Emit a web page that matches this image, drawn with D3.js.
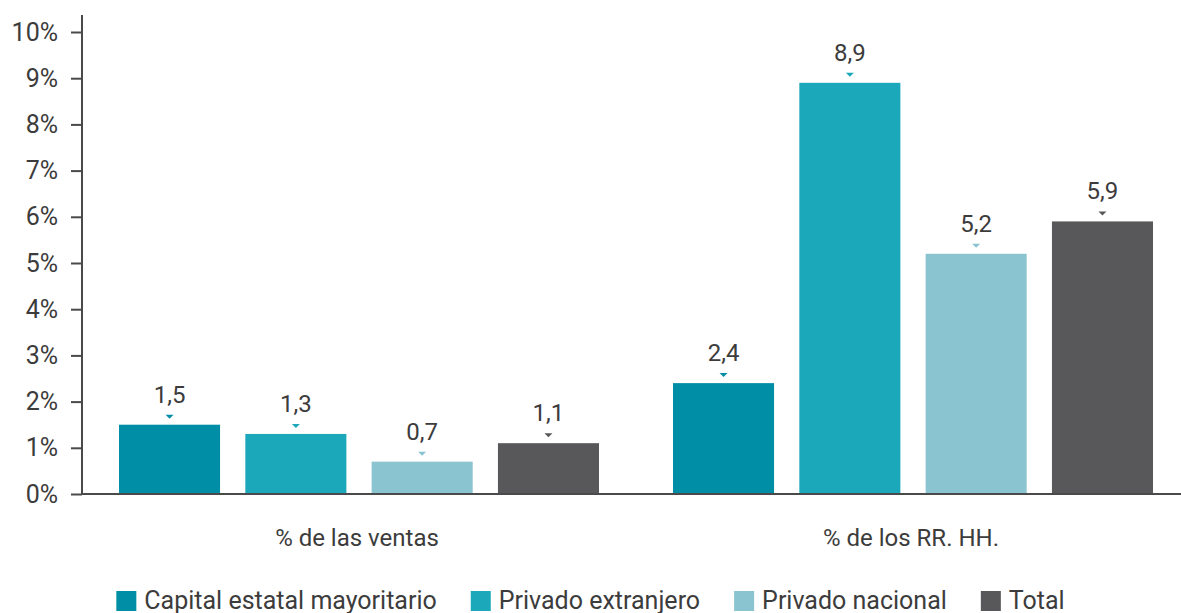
<!DOCTYPE html>
<html>
<head>
<meta charset="utf-8">
<script src="https://cdn.jsdelivr.net/npm/d3@7"></script>
<style>
    html, body { margin: 0; padding: 0; background: #fff; }
    svg text { font-family: Roboto, "Noto Sans", sans-serif; fill: #3c3c3c; }
</style>
</head>
<body>
<div id="chart"></div>
<script>
const groups = ["% de las ventas", "% de los RR. HH."];
const series = ["Capital estatal mayoritario", "Privado extranjero", "Privado nacional", "Total"];
const colors = ["#008ea6", "#1ca8bb", "#8ac4d0", "#58585a"];
const ventas = [1.5, 1.3, 0.7, 1.1];
const rrhh = [2.4, 8.9, 5.2, 5.9];
const yTicks = [0, 1, 2, 3, 4, 5, 6, 7, 8, 9, 10];

const width = 1181, height = 613;
const margin = { top: 15, left: 82, bottom: 119, right: 0 };

const svg = d3.select("#chart").append("svg")
    .attr("width", width)
    .attr("height", height);

const y = d3.scaleLinear()
    .domain([0, 10])
    .range([height - margin.bottom, 32]);

// groups are slightly wider than the plot, the last band runs past the edge
const x0 = d3.scaleBand()
    .domain(groups)
    .range([margin.left, 1190]);

const x1 = d3.scaleBand()
    .domain(series)
    .range([0, x0.bandwidth()])
    .paddingInner(0.2)
    .paddingOuter(0.293);

const rows = groups.map((g, gi) => ({
    group: g,
    values: series.map((s, si) => ({ s, si, v: gi === 0 ? ventas[si] : rrhh[si] }))
}));

// bars
const gGroups = svg.selectAll(".grp")
    .data(rows)
    .enter().append("g")
    .attr("class", "grp")
    .attr("transform", d => "translate(" + x0(d.group) + ",0)");

const bar = gGroups.selectAll(".bar")
    .data(d => d.values)
    .enter().append("g");

bar.append("rect")
    .attr("x", d => x1(d.s))
    .attr("y", d => y(d.v))
    .attr("width", x1.bandwidth())
    .attr("height", d => y(0) - y(d.v))
    .attr("fill", d => colors[d.si]);

// small marker triangle above each bar
bar.append("path")
    .attr("fill", d => colors[d.si])
    .attr("d", d => {
        const cx = x1(d.s) + x1.bandwidth() / 2;
        const yb = y(d.v) - 6;
        return "M" + (cx - 4) + "," + (yb - 4) + " L" + (cx + 4) + "," + (yb - 4) + " L" + cx + "," + yb + " Z";
    });

bar.append("text")
    .attr("x", d => x1(d.s) + x1.bandwidth() / 2)
    .attr("y", d => y(d.v) - 22)
    .attr("text-anchor", "middle")
    .style("font-size", "24px")
    .text(d => d.v.toFixed(1).replace(".", ","));

// y axis
const yAxis = d3.axisLeft(y)
    .tickValues(yTicks)
    .tickSize(11)
    .tickPadding(13)
    .tickFormat(d => d + "%");

const ax = svg.append("g")
    .attr("transform", "translate(" + margin.left + ",0)")
    .call(yAxis);

ax.select(".domain")
    .attr("d", "M0," + margin.top + "V" + y(0))
    .attr("stroke", "#4a4a4a")
    .attr("stroke-width", 2);
ax.selectAll(".tick line").attr("stroke", "#4a4a4a").attr("stroke-width", 2);
ax.selectAll(".tick text").style("font-size", "25px").attr("fill", "#3c3c3c");

// baseline
svg.append("line")
    .attr("x1", margin.left)
    .attr("x2", width)
    .attr("y1", y(0))
    .attr("y2", y(0))
    .attr("stroke", "#4a4a4a")
    .attr("stroke-width", 2);

// category labels
svg.selectAll(".cat")
    .data(groups)
    .enter().append("text")
    .attr("x", d => x0(d) + x0.bandwidth() / 2 - 2)
    .attr("y", 546)
    .attr("text-anchor", "middle")
    .style("font-size", "24px")
    .text(d => d);

// legend
const legend = svg.append("g");
let lx = 0;
series.forEach((s, i) => {
    const item = legend.append("g").attr("transform", "translate(" + lx + ",0)");
    item.append("rect")
        .attr("x", 0).attr("y", 591)
        .attr("width", 20).attr("height", 20)
        .attr("fill", colors[i]);
    const t = item.append("text")
        .attr("x", 28).attr("y", 609)
        .style("font-size", "25px")
        .text(s);
    lx += 28 + t.node().getComputedTextLength() + 34;
});
const lw = lx - 34;
legend.attr("transform", "translate(" + ((width - lw) / 2) + ",0)");
</script>
</body>
</html>
